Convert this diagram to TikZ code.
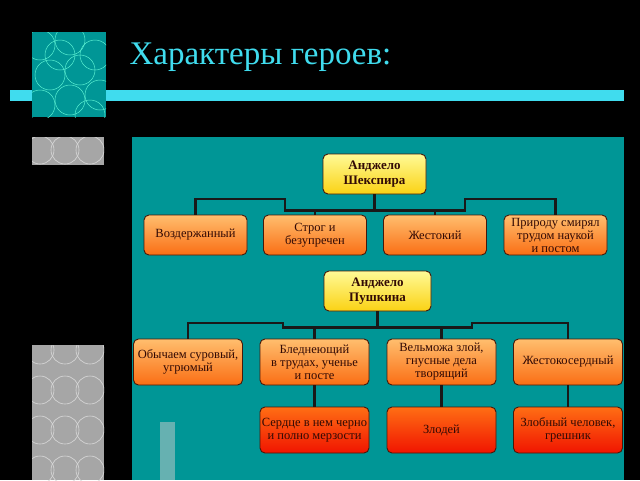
\documentclass[tikz,border=0pt]{standalone}
\usepackage{fontspec}
\setmainfont{Liberation Serif}
\usetikzlibrary{positioning}
\definecolor{panelteal}{RGB}{0,150,150}
\definecolor{barcyan}{RGB}{64,220,238}
\definecolor{ringcyan}{RGB}{90,240,210}
\definecolor{boxline}{RGB}{70,25,10}
\definecolor{boxtext}{RGB}{50,10,5}
\definecolor{orangetop}{RGB}{255,190,110}
\definecolor{orangebot}{RGB}{250,110,20}
\definecolor{redtop}{RGB}{255,110,20}
\definecolor{redbot}{RGB}{240,20,0}
\definecolor{yeltop}{RGB}{255,250,150}
\definecolor{yelbot}{RGB}{250,210,20}
\tikzset{
  box/.style={draw=boxline,line width=0.9pt,rounded corners=5pt,minimum width=103pt,minimum height=40pt,
    align=center,font=\fontsize{12.5}{13}\selectfont,text=boxtext,inner sep=0pt},
  headbox/.style={box,top color=yeltop,bottom color=yelbot,font=\bfseries\fontsize{13}{15}\selectfont},
  traitbox/.style={box,top color=orangetop,bottom color=orangebot},
  evilbox/.style={box,top color=redtop,bottom color=redbot,minimum height=46pt,minimum width=109pt},
  link/.style={draw=black!90,line width=2.2pt}
}
\begin{document}
\begin{tikzpicture}[x=1pt,y=-1pt]
\fill[black] (0,0) rectangle (640,480);
% decoration
\fill[gray!70] (32,137) rectangle (104,480);
\begin{scope}
\clip (32,137) rectangle (104,480);
\foreach \i in {0,...,8}{
  \foreach \j in {0,...,2}{
    \draw[gray!30,line width=0.6pt] (40+\j*25,150+\i*40) circle (14);
  }
}
\end{scope}
\fill[black] (31,165) rectangle (105,345);
\fill[panelteal] (132,137) rectangle (624,480);
\fill[gray!40,opacity=0.5] (160,422) rectangle (175,480);
\fill[barcyan] (10,90) rectangle (624,101);
\fill[panelteal] (32,32) rectangle (106,117);
\begin{scope}
\clip (32,32) rectangle (106,117);
\foreach \x/\y in {40/45,70/40,95/55,50/75,80/70,40/105,70/100,100/95,60/55,90/115}{
  \draw[ringcyan,line width=0.5pt] (\x,\y) circle (15);
}
\end{scope}
\node[anchor=west,text=barcyan,font=\fontsize{33}{36}\selectfont] (title) at (126,57) {Характеры героев:};
% Shakespeare
\node[headbox] (sh) at (374.5,174) {Анджело\\Шекспира};
\node[traitbox] (s1) at (195.5,235) {Воздержанный};
\node[traitbox] (s2) at (315,235) {Строг и\\безупречен};
\node[traitbox] (s3) at (435,235) {Жестокий};
\node[traitbox] (s4) at (555.5,235) {Природу смирял\\трудом наукой\\и постом};
\draw[link] (sh.south) -- ++(0,16) coordinate (sj);
\draw[link] (s2.north) |- (sj) -| (s3.north);
\draw[link] (s1.north) |- (285,199) |- (sj) -| (465,199) -| (s4.north);
% Pushkin
\node[headbox,minimum width=107pt] (pu) at (377.5,291) {Анджело\\Пушкина};
\node[traitbox,minimum height=46pt,minimum width=109pt] (p1) at (188,362) {Обычаем суровый,\\угрюмый};
\node[traitbox,minimum height=46pt,minimum width=109pt] (p2) at (314.5,362) {Бледнеющий\\в трудах, ученье\\и посте};
\node[traitbox,minimum height=46pt,minimum width=109pt] (p3) at (441.5,362) {Вельможа злой,\\гнусные дела\\творящий};
\node[traitbox,minimum height=46pt,minimum width=109pt] (p4) at (568,362) {Жестокосердный};
\draw[link] (pu.south) -- ++(0,16) coordinate (pj);
\draw[link] (p2.north) |- (pj) -| (p3.north);
\draw[link] (p1.north) |- (283,323) |- (pj) -| (472,323) -| (p4.north);
\node[evilbox] (e2) at (314.5,430) {Сердце в нем черно\\и полно мерзости};
\node[evilbox] (e3) at (441.5,430) {Злодей};
\node[evilbox] (e4) at (568,430) {Злобный человек,\\грешник};
\draw[link] (p2) -- (e2);
\draw[link] (p3) -- (e3);
\draw[link] (p4) -- (e4);
\end{tikzpicture}
\end{document}
